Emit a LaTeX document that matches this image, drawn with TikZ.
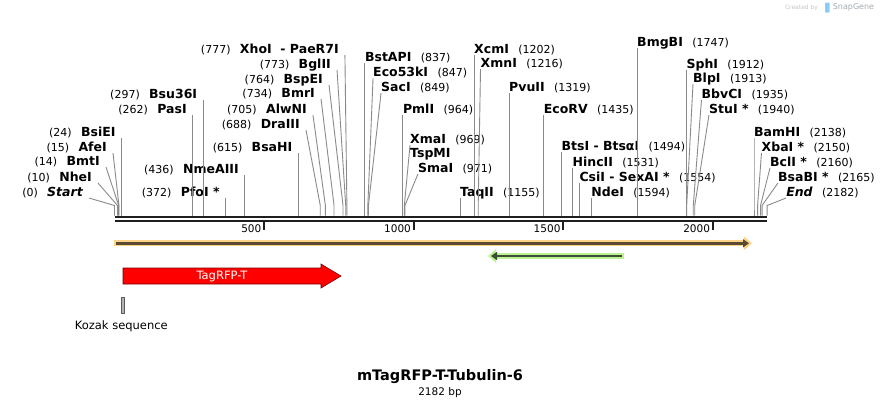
\documentclass[tikz,border=0pt]{standalone}
\usepackage{fontspec}
\setmainfont{DejaVu Sans}
\usetikzlibrary{arrows.meta,positioning,calc}
\definecolor{SGRule}{HTML}{1E1E1E}
\definecolor{SGSite}{HTML}{8A8A8A}
\definecolor{SGOrange}{HTML}{FDD487}
\definecolor{SGOrangeCore}{HTML}{5A4A32}
\definecolor{SGGreen}{HTML}{BDF290}
\definecolor{SGGreenCore}{HTML}{3C4D38}
\definecolor{SGRed}{HTML}{FF0000}
\definecolor{SGRedLine}{HTML}{7A0000}
\definecolor{SGKozak}{HTML}{B3B3B3}
\definecolor{SGKozakLine}{HTML}{5A5A5A}
\definecolor{SGMark}{HTML}{C4C4C4}
\definecolor{SGMarkDark}{HTML}{A4ABB3}
\definecolor{SGLogo}{HTML}{8DCBF2}
\tikzset{
  enz/.style={font=\fontsize{12.5}{14}\selectfont\bfseries,inner sep=0pt,
              text height=9pt,text depth=0pt},
  sitepos/.style={font=\fontsize{11}{13}\selectfont,inner sep=0pt},
  site/.style={SGSite,line width=0.9pt},
  rule/.style={SGRule,line width=2.2pt},
  rulethin/.style={SGRule,line width=1.6pt},
  tickmark/.style={SGRule,line width=1.8pt},
  ticklabel/.style={font=\fontsize{10.5}{12}\selectfont,inner sep=0pt,anchor=east},
  halo/.style={line width=6pt},
  core/.style={line width=2.4pt},
  featurebox/.style={fill=SGRed,draw=SGRedLine,line width=0.6pt},
  featurelabel/.style={text=white,font=\fontsize{11.5}{13}\selectfont,inner sep=0pt},
  kozakbox/.style={fill=SGKozak,draw=SGKozakLine,line width=0.5pt},
  smallcopy/.style={font=\fontsize{11.5}{13}\selectfont,inner sep=0pt},
  plasmidname/.style={font=\fontsize{14.5}{16}\selectfont\bfseries,inner sep=0pt},
  plasmidsize/.style={font=\fontsize{10.5}{12}\selectfont,inner sep=0pt},
}
\begin{document}
\begin{tikzpicture}[x=1pt,y=-1pt]
    \useasboundingbox (0,0) rectangle (882,408);

    % sequence ruler (1 bp = 0.2991 px, start at x = 114.5)
    \coordinate (rl) at (114.5,216.6);
    \coordinate (rr) at (767.3,216.6);
    \draw[rule] (rl) -- (rr);
    \draw[rulethin] ([yshift=-4.4pt]rl) -- ([yshift=-4.4pt]rr);
    \foreach \t in {500,1000,1500,2000}{
      \pgfmathsetmacro{\x}{114.5+0.2991*\t}
      \draw[tickmark] (\x,221) -- (\x,230);
      \node[ticklabel] (tick\t) at (\x-2.5,229) {\t};
    }

    % sites with labels on the left
    \foreach \nm/\num/\b/\dx/\ly [count=\k] in {
        {\itshape Start}/(0)/0/-25.5/192, NheI/(10)/10/-19.5/177,
        BmtI/(14)/14/-12.7/161, AfeI/(15)/15/-6/147, BsiEI/(24)/24/0/132,
        PfoI */(372)/372/0/192, NmeAIII/(436)/436/0/169, PasI/(262)/262/0/109,
        Bsu36I/(297)/297/0/94, BsaHI/(615)/615/0/147, DraIII/(688)/688/-14.3/124,
        AlwNI/(705)/705/-12.4/109, BmrI/(734)/734/-13/93, BspEI/(764)/764/-14/79,
        BglII/(773)/773/-8.7/64, XhoI\ \ - PaeR7I/(777)/777/-2/49}{
      \pgfmathsetmacro{\x}{114.5+0.2991*\b}
      \coordinate (ls\k) at (\x,215.5);
      \node[enz,anchor=east] (l\k) at ({\x+\dx-6},\ly) {\nm};
      \node[sitepos,anchor=base east] (lp\k) at ([xshift=-9pt]l\k.base west) {\num};
      \draw[site] ($(l\k.east)+(6,6)$) -- ([yshift=10pt]ls\k) -- (ls\k);
    }

    % sites with labels on the right
    \foreach \nm/\num/\b/\dx/\ly [count=\k] in {
        BstAPI/(837)/837/0/57, Eco53kI/(847)/847/5.2/72, SacI/(849)/849/12.6/87,
        PmlI/(964)/964/0/109, XmaI/(969)/969/5.7/139, SmaI/(971)/971/13/168,
        TaqII/(1155)/1155/0/192, XcmI/(1202)/1202/0/49, XmnI/(1216)/1216/2.3/63,
        PvuII/(1319)/1319/0/87, EcoRV/(1435)/1435/0/109,
        BtsI - BtsαI/(1494)/1494/0/146, HincII/(1531)/1531/0/162,
        CsiI - SexAI */(1554)/1554/0/177, NdeI/(1594)/1594/0/192,
        BmgBI/(1747)/1747/0/42, SphI/(1912)/1912/0/64, BlpI/(1913)/1913/6.3/78,
        BbvCI/(1935)/1935/8.2/94, StuI */(1940)/1940/14.2/109,
        BamHI/(2138)/2138/0/132, XbaI */(2150)/2150/3.9/147,
        BclI */(2160)/2160/9.4/162, BsaBI */(2165)/2165/15.9/177,
        {\itshape End}/(2182)/2182/18.9/192}{
      \pgfmathsetmacro{\x}{114.5+0.2991*\b}
      \coordinate (rs\k) at (\x,215.5);
      \node[enz,anchor=west] (r\k) at ({\x+\dx},\ly) {\nm};
      \node[sitepos,anchor=base west] (rp\k) at ([xshift=9pt]r\k.base east) {\num};
      \draw[site] ($(r\k.west)+(0,6)$) -- ([yshift=10pt]rs\k) -- (rs\k);
    }
    \node[enz,anchor=west] (tspmi) at (410,153) {TspMI};

    % features
    \coordinate (ora) at (114,243.3);
    \draw[halo,SGOrange,-{Triangle[length=8pt,width=13pt]}] (ora) -- (752,243.3);
    \draw[core,SGOrangeCore,-{Triangle[length=6pt,width=8pt]}] ([xshift=1.5pt]ora) -- (749,243.3);
    \coordinate (gra) at (623.5,256);
    \draw[halo,SGGreen,-{Triangle[length=8pt,width=13pt]}] (gra) -- (488,256);
    \draw[core,SGGreenCore,-{Triangle[length=6pt,width=8pt]}] ([xshift=-1.5pt]gra) -- (491,256);

    \draw[featurebox] (123,268) -- (321,268) -- (321,264) -- (341,276)
      -- (321,288) -- (321,284) -- (123,284) -- cycle;
    \node[featurelabel] (tagrfp) at (222,276) {TagRFP-T};

    \draw[kozakbox] (121.3,297) rectangle (124.3,313);
    \node[smallcopy] (kozak) at (121.3,326.7) {Kozak sequence};

    % name and size
    \node[plasmidname] (pname) at (440,377) {mTagRFP-T-Tubulin-6};
    \node[plasmidsize] (psize) at (440,392.3) {2182 bp};

    % watermark
    \node[text=SGMark,font=\fontsize{6}{7}\selectfont,inner sep=0pt] (made) at (801.5,7.5) {Created by};
    \fill[SGLogo,rounded corners=0.8pt] (825,2.5) rectangle (829.5,12.5);
    \node[text=SGMarkDark,font=\fontsize{8}{9}\selectfont,inner sep=0pt] (sgname) at (853.5,7.5) {SnapGene};
  \end{tikzpicture}
\end{document}
